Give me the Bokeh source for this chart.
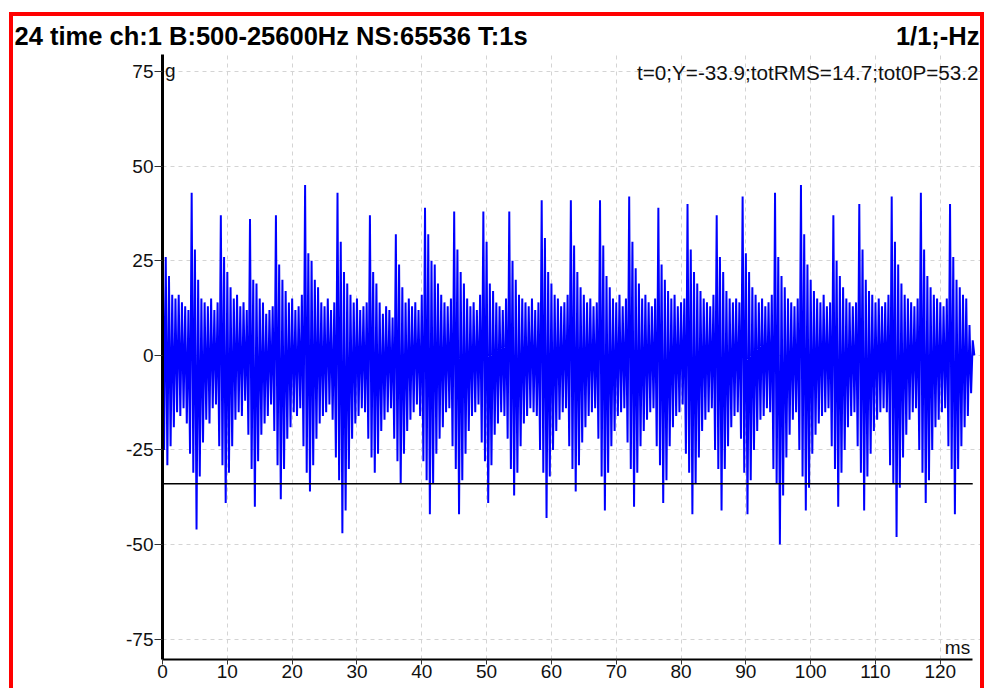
from bokeh.plotting import figure
from bokeh.layouts import column
from bokeh.models import Range1d, Label
from bokeh.embed import file_html
from bokeh.resources import INLINE

# ---- data ----
title_left = "24 time ch:1 B:500-25600Hz NS:65536 T:1s"
title_right = "1/1;-Hz"
readout = "t=0;Y=-33.9;totRMS=14.7;tot0P=53.2"
y_unit = "g"
x_unit = "ms"
cursor_y = -33.9
x_ticks = [0, 10, 20, 30, 40, 50, 60, 70, 80, 90, 100, 110, 120]
y_ticks = [-75, -50, -25, 0, 25, 50, 75]
bin_ms = 0.5  # width of one envelope bin in ms

# upper envelope of the waveform, one value per 0.5 ms bin (g)
upper = [
    39, 26, 21, 16, 15, 16, 14, 13, 12,
    43, 28, 20, 15, 14, 13, 15, 12, 14,
    37, 26, 22, 18, 15, 16, 13, 14, 12,
    36, 20, 19, 15, 14, 11, 12, 13,
    37, 24, 20, 17, 14, 15, 12, 13, 16,
    45, 27, 25, 20, 18, 14, 13, 15, 12, 14,
    43, 30, 22, 19, 16, 14, 15, 12, 13, 14,
    37, 22, 19, 14, 11, 13, 12, 10,
    32, 24, 18, 14, 15, 13, 14, 12, 16,
    39, 32, 25, 24, 19, 16, 14, 13, 15,
    38, 28, 22, 19, 15, 13, 14, 12, 16,
    38, 30, 19, 17, 14, 13, 12, 15,
    38, 25, 20, 16, 15, 14, 13, 15, 12, 14,
    41, 31, 22, 19, 16, 15, 13, 14, 16,
    41, 29, 22, 18, 16, 14, 15, 13, 14,
    41, 29, 21, 18, 15, 14, 16, 13, 15,
    42, 30, 23, 19, 15, 16, 14, 13, 15,
    39, 24, 20, 17, 15, 16, 13, 14, 15,
    40, 28, 22, 19, 17, 15, 14, 13, 16,
    37, 26, 22, 17, 15, 14, 15, 14,
    42, 27, 22, 18, 16, 14, 15, 13, 14, 16,
    43, 26, 21, 18, 15, 14, 13, 15,
    45, 32, 24, 20, 17, 15, 14, 16, 13, 14,
    37, 25, 21, 18, 15, 14, 13, 14,
    40, 28, 20, 17, 16, 14, 15, 13, 14, 16,
    42, 30, 24, 19, 16, 15, 14, 13, 15,
    43, 28, 21, 18, 16, 15, 14, 13, 15,
    40, 26, 20, 18, 16, 15, 8, 4,
]

# lower envelope of the waveform, one value per 0.5 ms bin (g)
lower = [
    -25, -29, -24, -19, -15, -16, -14, -18, -26,
    -31, -46, -32, -23, -17, -18, -14, -13, -24,
    -29, -39, -31, -24, -17, -15, -16, -12, -21,
    -30, -40, -28, -21, -18, -16, -13, -20,
    -29, -38, -30, -22, -19, -15, -16, -14, -24,
    -31, -36, -29, -22, -18, -16, -15, -13, -17, -27,
    -33, -47, -41, -30, -22, -18, -16, -14, -15, -22,
    -27, -31, -26, -20, -17, -15, -14, -22,
    -28, -34, -26, -20, -17, -15, -13, -16, -28,
    -33, -42, -34, -26, -22, -19, -15, -14, -24,
    -30, -42, -33, -26, -20, -16, -15, -13, -23,
    -28, -39, -29, -21, -18, -15, -16, -22,
    -30, -37, -31, -24, -18, -16, -14, -15, -16, -25,
    -31, -43, -32, -25, -20, -17, -15, -14, -24,
    -30, -36, -29, -23, -19, -16, -15, -14, -22,
    -32, -41, -31, -24, -20, -16, -15, -14, -23,
    -30, -40, -31, -24, -20, -17, -15, -14, -24,
    -29, -39, -33, -24, -19, -16, -15, -13, -26,
    -31, -42, -34, -27, -20, -17, -15, -14, -25,
    -30, -41, -30, -24, -19, -16, -15, -22,
    -31, -42, -33, -25, -20, -17, -16, -14, -15, -30,
    -34, -50, -37, -27, -21, -17, -15, -25,
    -32, -41, -35, -26, -21, -18, -16, -15, -14, -24,
    -30, -40, -31, -25, -19, -16, -15, -24,
    -31, -41, -32, -26, -20, -17, -15, -14, -15, -29,
    -34, -48, -35, -27, -21, -17, -15, -14, -25,
    -31, -39, -33, -25, -19, -17, -15, -14, -24,
    -30, -42, -30, -24, -19, -16, -10, 0,
]

# ---- build the zig-zag trace from the envelopes ----
xs, ys = [], []
for i, (u, l) in enumerate(zip(upper, lower)):
    xs += [i * bin_ms, i * bin_ms + bin_ms / 2]
    ys += [u, l]
t_end = (len(upper) - 1) * bin_ms

FONT = "Liberation Sans"
W = 967
HEAD_H = 38

# ---- header strip with the two title texts ----
head = figure(width=W, height=HEAD_H, title=None, output_backend="svg", toolbar_location=None,
              x_range=Range1d(0, W), y_range=Range1d(0, HEAD_H),
              x_axis_location=None, y_axis_location=None,
              min_border=0, min_border_left=0, min_border_right=0,
              min_border_top=0, min_border_bottom=0)
head.frame_align = False
head.grid.visible = False
head.outline_line_color = None
head.add_layout(Label(x=1, y=19, text=title_left, text_font=FONT, text_font_size="25.5px",
                      text_font_style="bold", text_color="black", text_align="left",
                      text_baseline="alphabetic"))
head.add_layout(Label(x=W - 1, y=19, text=title_right, text_font=FONT, text_font_size="25.5px",
                      text_font_style="bold", text_color="black", text_align="right",
                      text_baseline="alphabetic"))

# ---- main plot ----
p = figure(width=W, height=634, title=None, output_backend="svg", toolbar_location=None,
           x_range=Range1d(0, 126.2), y_range=Range1d(-80.36, 79.5),
           min_border_left=149, min_border_right=0, min_border_top=0, min_border_bottom=29)
p.frame_align = False
p.outline_line_color = None
p.background_fill_color = "white"
p.border_fill_color = "white"

p.line(xs, ys, line_color="#0000ff", line_width=2.0)
p.segment(x0=[0], y0=[cursor_y], x1=[t_end], y1=[cursor_y], line_color="black", line_width=1.5)

for ax in (p.xaxis[0], p.yaxis[0]):
    ax.major_label_text_font = FONT
    ax.major_label_text_font_size = "19px"
    ax.major_label_text_color = "#111111"
    ax.major_tick_line_color = "#333333"
    ax.major_tick_in = 0
    ax.minor_tick_line_color = None
    ax.axis_line_color = "black"
p.xaxis.ticker = x_ticks
p.yaxis.ticker = y_ticks
p.xaxis.bounds = (0, t_end)
p.yaxis.major_label_overrides = {t: str(t) for t in y_ticks}
p.yaxis.axis_line_width = 3
p.xaxis.axis_line_width = 2
p.yaxis.major_tick_out = 8
p.xaxis.major_tick_out = 5
p.yaxis.major_label_standoff = 1
p.xaxis.major_label_standoff = 0

p.grid.grid_line_color = "#d4d4d4"
p.grid.grid_line_dash = "4 4"
p.grid.grid_line_width = 1

p.add_layout(Label(x=125.9, y=74.7, text=readout, text_font=FONT, text_font_size="20.7px",
                   text_color="#111111", text_align="right", text_baseline="alphabetic"))
p.add_layout(Label(x=0.4, y=75.4, text=y_unit, text_font=FONT, text_font_size="19px",
                   text_color="#111111", text_align="left", text_baseline="alphabetic"))
p.add_layout(Label(x=124.6, y=-77.1, text=x_unit, text_font=FONT, text_font_size="19px",
                   text_color="#111111", text_align="right", text_baseline="alphabetic"))

page = column(head, p, spacing=0,
              styles={"border-top": "4px solid red", "border-left": "4px solid red",
                      "border-right": "4px solid red", "margin-left": "9px",
                      "margin-top": "12px"})

open("out.html", "w").write(file_html(page, INLINE))
